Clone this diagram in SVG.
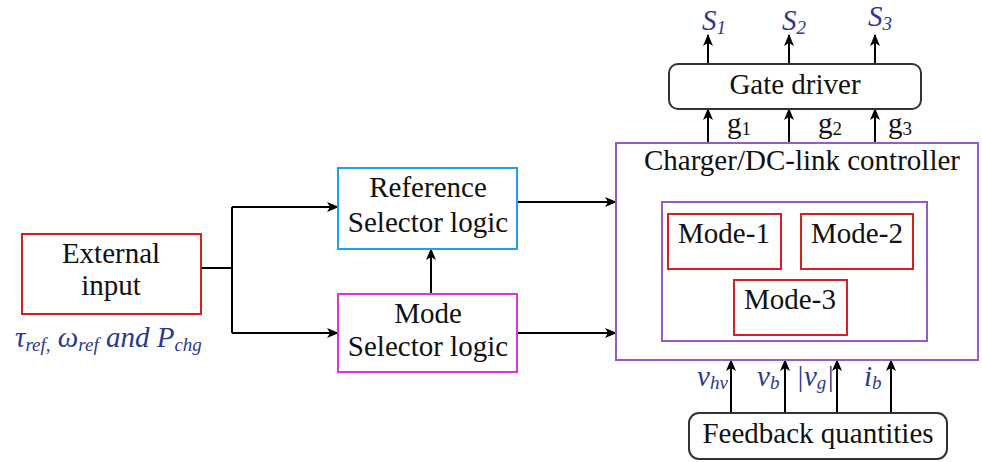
<svg xmlns="http://www.w3.org/2000/svg" width="982" height="462" viewBox="0 0 982 462">
  <defs>
    <marker id="arrow" markerUnits="userSpaceOnUse" markerWidth="12" markerHeight="10" refX="11" refY="5" orient="auto">
      <path d="M0,0 L12,5 L0,10 L3,5 Z" fill="#000"/>
    </marker>
    <style>
      .box { fill: #fff; stroke-width: 2; }
      .txt { font-size: 29px; fill: #111; text-anchor: middle; }
      .var { font-size: 29px; font-style: italic; fill: #2b3990; }
      .sub { font-size: 19px; }
      .wire { fill: none; stroke: #000; stroke-width: 2; }
      .arr { fill: none; stroke: #000; stroke-width: 2; marker-end: url(#arrow); }
    </style>
  </defs>
  <rect width="982" height="462" fill="#fff"/>

  <!-- connectors -->
  <g id="connectors">
    <path class="wire" d="M201,268 H232 M232,207 V333"/>
    <path class="arr" d="M232,207 H338"/>
    <path class="arr" d="M232,333 H338"/>
    <path class="arr" d="M431,294 V249"/>
    <path class="arr" d="M517,202 H616"/>
    <path class="arr" d="M517,333 H616"/>
    <path class="arr" d="M708,143 V109"/>
    <path class="arr" d="M789,143 V109"/>
    <path class="arr" d="M875,143 V109"/>
    <path class="arr" d="M708,64 V35"/>
    <path class="arr" d="M789,64 V35"/>
    <path class="arr" d="M875,64 V35"/>
    <path class="arr" d="M731,413 V360"/>
    <path class="arr" d="M785,413 V360"/>
    <path class="arr" d="M837,413 V360"/>
    <path class="arr" d="M891,413 V360"/>
  </g>

  <g id="external-input">
    <rect class="box" x="22" y="234" width="179" height="80" stroke="#d42020"/>
    <text class="txt" font-family="Liberation Serif" x="111" y="263">External</text>
    <text class="txt" font-family="Liberation Serif" x="111" y="295">input</text>
    <text class="var" font-family="Liberation Serif" x="15" y="347">τ<tspan class="sub" dy="4">ref,</tspan><tspan dy="-4"> ω</tspan><tspan class="sub" dy="4">ref</tspan><tspan dy="-4"> and P</tspan><tspan class="sub" dy="4">chg</tspan></text>
  </g>

  <g id="reference-selector">
    <rect class="box" x="338" y="168" width="179" height="81" stroke="#1ea0f0"/>
    <text class="txt" font-family="Liberation Serif" x="428" y="197">Reference</text>
    <text class="txt" font-family="Liberation Serif" x="428" y="232">Selector logic</text>
  </g>

  <g id="mode-selector">
    <rect class="box" x="338" y="294" width="179" height="78" stroke="#e030d8"/>
    <text class="txt" font-family="Liberation Serif" x="428" y="323">Mode</text>
    <text class="txt" font-family="Liberation Serif" x="428" y="356">Selector logic</text>
  </g>

  <g id="controller">
    <rect class="box" x="616" y="143" width="362" height="217" stroke="#9b59c6"/>
    <text class="txt" font-family="Liberation Serif" x="802" y="170">Charger/DC-link controller</text>
    <rect class="box" x="662" y="202" width="265" height="139" stroke="#9b59c6"/>
  </g>

  <g id="mode-1">
    <rect class="box" x="668" y="214" width="113" height="55" stroke="#d42020"/>
    <text class="txt" font-family="Liberation Serif" x="724" y="243">Mode-1</text>
  </g>
  <g id="mode-2">
    <rect class="box" x="801" y="214" width="112" height="55" stroke="#d42020"/>
    <text class="txt" font-family="Liberation Serif" x="857" y="243">Mode-2</text>
  </g>
  <g id="mode-3">
    <rect class="box" x="734" y="280" width="113" height="55" stroke="#d42020"/>
    <text class="txt" font-family="Liberation Serif" x="790" y="309">Mode-3</text>
  </g>

  <g id="gate-driver">
    <rect class="box" x="669" y="64" width="252" height="45" rx="9" stroke="#333"/>
    <text class="txt" font-family="Liberation Serif" x="795" y="94">Gate driver</text>
    <text class="txt" font-family="Liberation Serif" x="727" y="133" text-anchor="start" style="text-anchor:start">g<tspan class="sub" dy="2">1</tspan></text>
    <text class="txt" font-family="Liberation Serif" x="818" y="133" style="text-anchor:start">g<tspan class="sub" dy="2">2</tspan></text>
    <text class="txt" font-family="Liberation Serif" x="888" y="133" style="text-anchor:start">g<tspan class="sub" dy="2">3</tspan></text>
    <text class="var" font-family="Liberation Serif" x="702" y="30">S<tspan class="sub" dy="4">1</tspan></text>
    <text class="var" font-family="Liberation Serif" x="782" y="30">S<tspan class="sub" dy="4">2</tspan></text>
    <text class="var" font-family="Liberation Serif" x="868" y="26">S<tspan class="sub" dy="4">3</tspan></text>
  </g>

  <g id="feedback">
    <rect class="box" x="689" y="413" width="258" height="46" rx="10" stroke="#333"/>
    <text class="txt" font-family="Liberation Serif" x="818" y="443">Feedback quantities</text>
    <text class="var" font-family="Liberation Serif" x="697" y="386">v<tspan class="sub" dy="3">hv</tspan></text>
    <text class="var" font-family="Liberation Serif" x="757" y="386">v<tspan class="sub" dy="3">b</tspan></text>
    <text class="var" font-family="Liberation Serif" x="796" y="386">|v<tspan class="sub" dy="3">g</tspan><tspan dy="-3">|</tspan></text>
    <text class="var" font-family="Liberation Serif" x="864" y="386">i<tspan class="sub" dy="3">b</tspan></text>
  </g>
</svg>
